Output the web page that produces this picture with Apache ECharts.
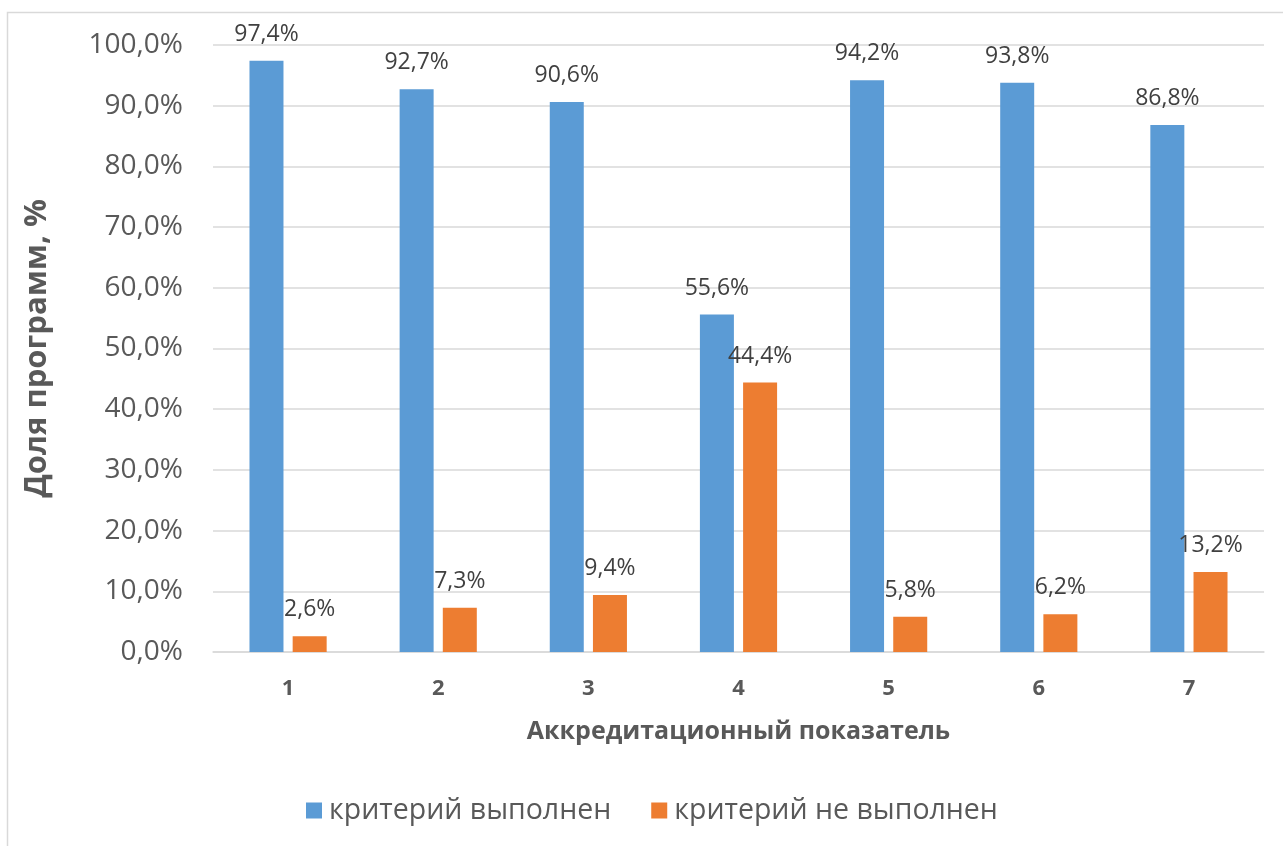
<!DOCTYPE html>
<html>
<head>
<meta charset="utf-8">
<script src="https://cdn.jsdelivr.net/npm/echarts@6/dist/echarts.min.js"></script>
<style>
html,body{margin:0;padding:0;background:#fff;}
#chart{width:1283px;height:846px;}
</style>
</head>
<body>
<div id="chart"></div>
<script>
const categories = ['1','2','3','4','5','6','7'];
const doneValues = [97.4, 92.7, 90.6, 55.6, 94.2, 93.8, 86.8];
const notDoneValues = [2.6, 7.3, 9.4, 44.4, 5.8, 6.2, 13.2];
const seriesNames = ['критерий выполнен', 'критерий не выполнен'];
const xTitle = 'Аккредитационный показатель';
const yTitle = 'Доля программ, %';

const fmt = v => v.toFixed(1).replace('.', ',') + '%';
const FONT = '"Open Sans", "DejaVu Sans", sans-serif';

const chart = echarts.init(document.getElementById('chart'));
const labelCfg = {
  show: true, position: 'top', distance: 15,
  color: '#404040', fontSize: 23, fontFamily: FONT,
  formatter: p => fmt(p.value)
};
chart.setOption({
  animation: false,
  textStyle: {fontFamily: FONT},
  graphic: [{
    type: 'rect', silent: true,
    shape: {x: 7.5, y: 12.5, width: 1300, height: 860},
    style: {fill: null, stroke: '#D9D9D9', lineWidth: 1.5}
  }],
  grid: {left: 213, right: 19, top: 45, bottom: 194, containLabel: false},
  legend: {
    top: 791, left: 301,
    itemWidth: 16, itemHeight: 16, itemGap: 40,
    icon: 'rect',
    textStyle: {color: '#595959', fontSize: 28.5, fontFamily: FONT, padding: [0, 0, 0, 2]},
    data: seriesNames
  },
  xAxis: {
    type: 'category', data: categories,
    axisLine: {show: true, lineStyle: {color: '#D9D9D9', width: 1.5}},
    axisTick: {show: false},
    axisLabel: {color: '#595959', fontSize: 22, fontWeight: 'bold', margin: 26, fontFamily: FONT},
    name: xTitle, nameLocation: 'middle', nameGap: 67,
    nameTextStyle: {color: '#595959', fontSize: 25, fontWeight: 'bold', fontFamily: FONT}
  },
  yAxis: {
    type: 'value', min: 0, max: 100, interval: 10,
    axisLine: {show: false}, axisTick: {show: false},
    splitLine: {lineStyle: {color: '#D9D9D9', width: 1.5}},
    axisLabel: {color: '#595959', fontSize: 28, margin: 30, fontFamily: FONT,
      formatter: v => v.toFixed(1).replace('.', ',') + '%'},
    name: yTitle, nameLocation: 'middle', nameGap: 160,
    nameTextStyle: {color: '#595959', fontSize: 31, fontWeight: 'bold', fontFamily: FONT}
  },
  series: [
    {name: seriesNames[0], type: 'bar', data: doneValues, barWidth: 34, barGap: '27%',
     itemStyle: {color: '#5B9BD5'}, label: labelCfg},
    {name: seriesNames[1], type: 'bar', data: notDoneValues, barWidth: 34, barGap: '27%',
     itemStyle: {color: '#ED7D31'}, label: labelCfg}
  ]
});
</script>
</body>
</html>
